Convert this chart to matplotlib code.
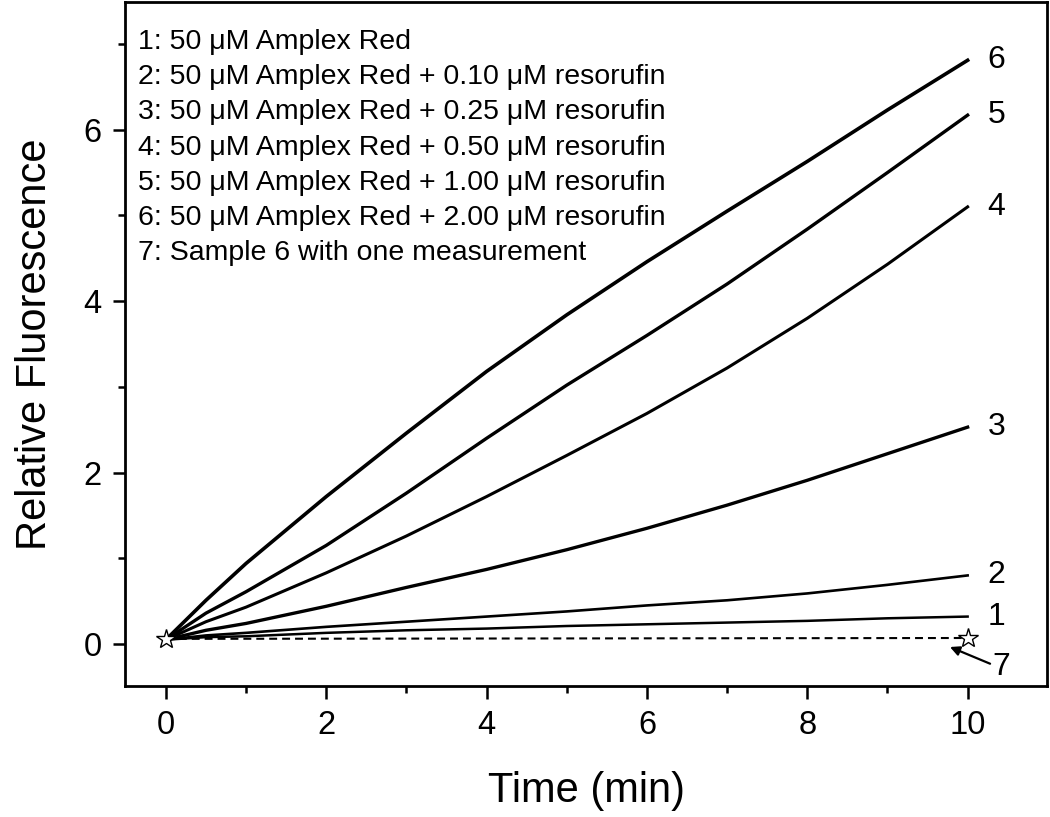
import matplotlib
matplotlib.use("Agg")
import matplotlib.pyplot as plt

plt.rcParams['font.family'] = ['Liberation Sans', 'DejaVu Sans']

# Time points (min) and curve values
t = [0, 0.5, 1, 2, 3, 4, 5, 6, 7, 8, 9, 10]
curve1 = [0.05, 0.08, 0.09, 0.13, 0.16, 0.18, 0.21, 0.23, 0.25, 0.27, 0.30, 0.32]
curve2 = [0.05, 0.10, 0.13, 0.20, 0.26, 0.32, 0.38, 0.45, 0.51, 0.59, 0.69, 0.80]
curve3 = [0.05, 0.16, 0.24, 0.44, 0.66, 0.87, 1.10, 1.35, 1.62, 1.91, 2.22, 2.53]
curve4 = [0.05, 0.26, 0.43, 0.83, 1.26, 1.72, 2.20, 2.69, 3.22, 3.80, 4.43, 5.10]
curve5 = [0.05, 0.36, 0.61, 1.15, 1.76, 2.40, 3.02, 3.60, 4.20, 4.84, 5.50, 6.17]
curve6 = [0.05, 0.51, 0.94, 1.72, 2.46, 3.18, 3.84, 4.46, 5.05, 5.63, 6.23, 6.81]
t7 = [0, 10]
curve7 = [0.06, 0.07]

series = [curve1, curve2, curve3, curve4, curve5, curve6]
widths = [1.8, 1.9, 2.4, 2.2, 2.4, 2.6]
curve_labels = ["1", "2", "3", "4", "5", "6"]

legend_lines = [
    "1: 50 \u03bcM Amplex Red",
    "2: 50 \u03bcM Amplex Red + 0.10 \u03bcM resorufin",
    "3: 50 \u03bcM Amplex Red + 0.25 \u03bcM resorufin",
    "4: 50 \u03bcM Amplex Red + 0.50 \u03bcM resorufin",
    "5: 50 \u03bcM Amplex Red + 1.00 \u03bcM resorufin",
    "6: 50 \u03bcM Amplex Red + 2.00 \u03bcM resorufin",
    "7: Sample 6 with one measurement",
]

fig = plt.figure(figsize=(10.5, 8.17), dpi=100)
ax = fig.add_axes([125/1050, 1 - 686/817, (1047-125)/1050, (686-2)/817])

for vals, lw in zip(series, widths):
    ax.plot(t, vals, color='black', lw=lw, solid_joinstyle='round')

ax.plot(t7, curve7, color='black', lw=1.5, ls=(0, (3.8, 2.4)))
ax.plot(t7, curve7, ls='none', marker='*', markersize=15,
        markerfacecolor='white', markeredgecolor='black', markeredgewidth=1.0, zorder=5)

for vals, lab in zip(series, curve_labels):
    ax.text(10.36, vals[-1], lab, fontsize=23, ha='center', va='center')

ax.text(10.42, -0.27, "7", fontsize=23, ha='center', va='center')
ax.annotate("", xy=(9.78, -0.035), xytext=(10.28, -0.23),
            arrowprops=dict(arrowstyle='-|>', color='black', lw=1.6,
                            mutation_scale=14, shrinkA=0, shrinkB=0))

for i, line in enumerate(legend_lines):
    fig.text(138/1050, 1 - (42 + i*35.2)/817, line, fontsize=20.5,
             ha='left', va='center')

ax.set_xlim(-0.51, 10.99)
ax.set_ylim(-0.49, 7.49)
ax.set_xticks([0, 2, 4, 6, 8, 10])
ax.set_xticks([1, 3, 5, 7, 9], minor=True)
ax.set_yticks([0, 2, 4, 6])
ax.set_yticks([1, 3, 5, 7], minor=True)

for s in ax.spines.values():
    s.set_linewidth(2.0)
ax.tick_params(which='major', direction='out', length=9, width=1.8, labelsize=23.5, pad=8)
ax.tick_params(which='minor', direction='out', length=5, width=1.8)

ax.set_xlabel("Time (min)", fontsize=30, labelpad=22)
ax.set_ylabel("Relative Fluorescence", fontsize=30, labelpad=20)

fig.savefig("out.png", dpi=100)
